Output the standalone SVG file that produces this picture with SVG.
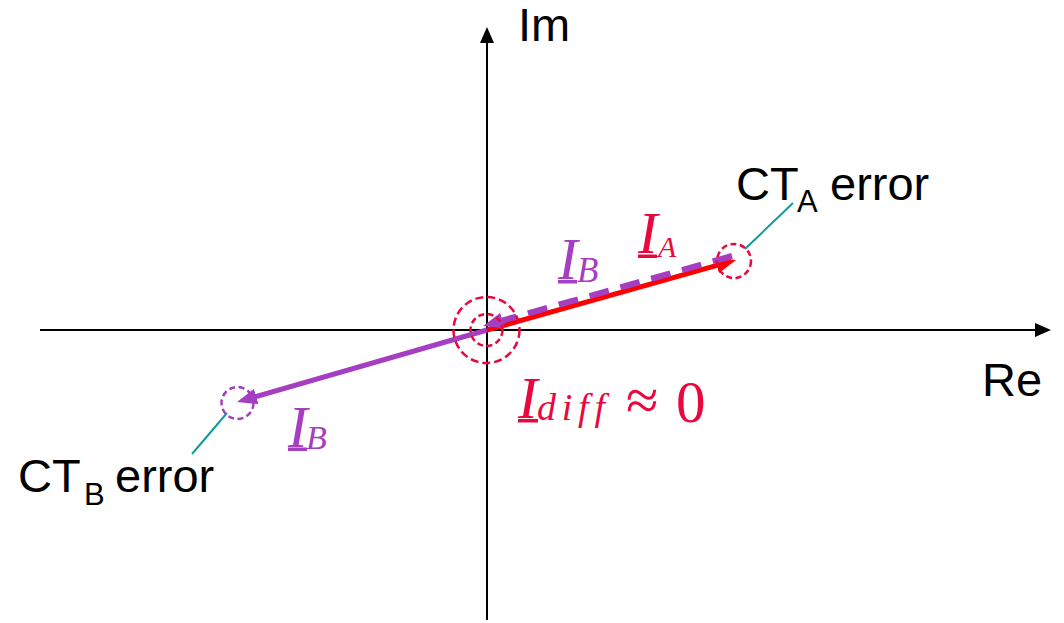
<svg xmlns="http://www.w3.org/2000/svg" width="1064" height="623" viewBox="0 0 1064 623">
  <style>
    .axis { stroke: #000; stroke-width: 2; fill: none; }
    .lbl { font-family: "Liberation Sans", Arial, sans-serif; font-size: 47px; fill: #000; }
    .sub { font-size: 31px; }
    .math { font-family: "Liberation Serif", "Times New Roman", serif; font-style: italic; font-size: 59px; }
    .red { fill: #E8083E; }
    .pur { fill: #A53EC0; }
    .rcirc { fill: none; stroke: #E8083E; stroke-width: 2.5; stroke-dasharray: 8 4; }
    .rcirc-s { fill: none; stroke: #E8083E; stroke-width: 2.5; stroke-dasharray: 6 3.5; }
    .pcirc { fill: none; stroke: #A53EC0; stroke-width: 2.5; stroke-dasharray: 6 3.5; }
    .leader { stroke: #119C9C; stroke-width: 2; fill: none; }
  </style>
  <defs>
    <marker id="axhead" markerUnits="userSpaceOnUse" markerWidth="16" markerHeight="14" refX="2" refY="7" orient="auto">
      <path d="M0,0 L16,7 L0,14 z" fill="#000"/>
    </marker>
    <marker id="redhead" markerUnits="userSpaceOnUse" markerWidth="20" markerHeight="16" refX="2" refY="8" orient="auto">
      <path d="M0,0 L20,8 L0,16 z" fill="#FF0000"/>
    </marker>
    <marker id="purhead" markerUnits="userSpaceOnUse" markerWidth="20" markerHeight="16" refX="2" refY="8" orient="auto">
      <path d="M0,0 L20,8 L0,16 z" fill="#A53EC0"/>
    </marker>
  </defs>

  <g id="axes">
    <line class="axis" x1="487" y1="620" x2="487" y2="41" marker-end="url(#axhead)"/>
    <line class="axis" x1="40" y1="330" x2="1037" y2="330" marker-end="url(#axhead)"/>
  </g>

  <g id="connectors">
    <line x1="487" y1="330" x2="718.7" y2="264.9" stroke="#FF0000" stroke-width="5" marker-end="url(#redhead)"/>
    <line x1="732" y1="256" x2="500.5" y2="321.1" stroke="#A53EC0" stroke-width="6" stroke-dasharray="20 12" marker-end="url(#purhead)"/>
    <line x1="487" y1="330" x2="254.3" y2="397" stroke="#A53EC0" stroke-width="5" marker-end="url(#purhead)"/>
    <line class="leader" x1="745" y1="249" x2="793" y2="203"/>
    <line class="leader" x1="227" y1="413" x2="192" y2="454"/>
  </g>

  <g id="origin-circles">
    <circle class="rcirc" cx="486.5" cy="330" r="33"/>
    <circle class="rcirc-s" cx="486.5" cy="330" r="16"/>
  </g>
  <g id="ctA-circle">
    <circle class="rcirc-s" cx="734" cy="261" r="17"/>
  </g>
  <g id="ctB-circle">
    <circle class="pcirc" cx="237.5" cy="403" r="16"/>
  </g>

  <g id="label-im"><text class="lbl" x="518" y="41" font-size="45">Im</text></g>
  <g id="label-re"><text class="lbl" x="982" y="396">Re</text></g>

  <g id="label-ctA">
    <text class="lbl"><tspan x="736" y="200">CT</tspan><tspan class="sub" x="797" y="212">A</tspan><tspan x="830" y="200">error</tspan></text>
  </g>
  <g id="label-ctB">
    <text class="lbl"><tspan x="18" y="492">CT</tspan><tspan class="sub" x="84" y="505">B</tspan><tspan x="115" y="492">error</tspan></text>
  </g>

  <g id="label-IA">
    <text class="math red"><tspan x="638" y="253">I</tspan><tspan x="658" y="257" font-size="30">A</tspan></text>
    <rect class="red" x="638" y="254.5" width="19" height="3.5"/>
  </g>
  <g id="label-IB-upper">
    <text class="math pur"><tspan x="558" y="279">I</tspan><tspan x="577" y="282" font-size="35">B</tspan></text>
    <rect class="pur" x="558" y="280" width="19" height="3.5"/>
  </g>
  <g id="label-IB-lower">
    <text class="math pur"><tspan x="288" y="446.5">I</tspan><tspan x="306" y="449" font-size="34">B</tspan></text>
    <rect class="pur" x="288" y="447.5" width="19" height="3.5"/>
  </g>
  <g id="label-Idiff">
    <text class="math red"><tspan x="518" y="418">I</tspan><tspan x="537" y="420" font-size="38" textLength="68" lengthAdjust="spacing">diff</tspan><tspan x="626" y="420" font-style="normal">≈</tspan><tspan x="676" y="422" font-style="normal">0</tspan></text>
    <rect class="red" x="518" y="419" width="20" height="3.5"/>
  </g>
</svg>
